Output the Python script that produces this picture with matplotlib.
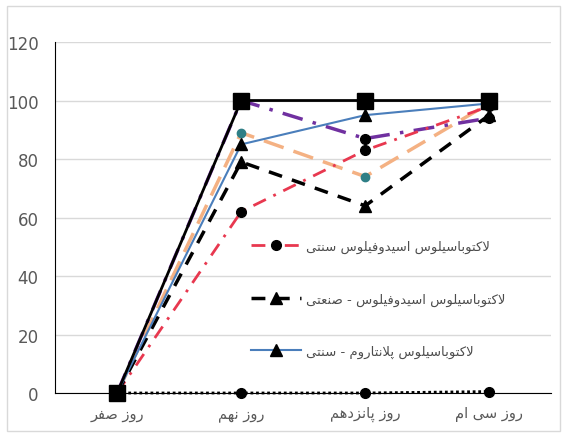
import matplotlib
matplotlib.use("Agg")
import matplotlib.pyplot as plt
from matplotlib.patches import Rectangle

# ---- داده‌ها ----
days = ["روز صفر", "روز نهم", "روز پانزدهم", "روز سی ام"]

control = [0, 100, 100, 100]
plantarum_trad = [0, 85, 95, 99]
acido_ind = [0, 79, 64, 95]
acido_trad = [0, 62, 83, 98]
purple_series = [0, 100, 87, 94]
orange_series = [0, 89, 74, 99]
zero_series = [0, 0, 0, 0.5]

leg_acido_trad = "لاکتوباسیلوس اسیدوفیلوس سنتی"
leg_acido_ind = "لاکتوباسیلوس اسیدوفیلوس - صنعتی"
leg_plant_trad = "لاکتوباسیلوس پلانتاروم - سنتی"

# ---- شکل‌دهی حروف فارسی (matplotlib اتصال حروف و راست‌به‌چپ ندارد) ----
FORMS = {
    'ا': ('\uFE8D', '\uFE8E', None, None),
    'ب': ('\uFE8F', '\uFE90', '\uFE91', '\uFE92'),
    'پ': ('\uFB56', '\uFB57', '\uFB58', '\uFB59'),
    'ت': ('\uFE95', '\uFE96', '\uFE97', '\uFE98'),
    'د': ('\uFEA9', '\uFEAA', None, None),
    'ر': ('\uFEAD', '\uFEAE', None, None),
    'ز': ('\uFEAF', '\uFEB0', None, None),
    'س': ('\uFEB1', '\uFEB2', '\uFEB3', '\uFEB4'),
    'ص': ('\uFEB9', '\uFEBA', '\uFEBB', '\uFEBC'),
    'ع': ('\uFEC9', '\uFECA', '\uFECB', '\uFECC'),
    'ف': ('\uFED1', '\uFED2', '\uFED3', '\uFED4'),
    'ک': ('\uFB8E', '\uFB8F', '\uFB90', '\uFB91'),
    'ل': ('\uFEDD', '\uFEDE', '\uFEDF', '\uFEE0'),
    'م': ('\uFEE1', '\uFEE2', '\uFEE3', '\uFEE4'),
    'ن': ('\uFEE5', '\uFEE6', '\uFEE7', '\uFEE8'),
    'ه': ('\uFEE9', '\uFEEA', '\uFEEB', '\uFEEC'),
    'و': ('\uFEED', '\uFEEE', None, None),
    'ی': ('\uFBFC', '\uFBFD', '\uFBFE', '\uFBFF'),
}


def joins_left(c):
    return c in FORMS and FORMS[c][2] is not None


def fa(text):
    out = []
    i, n = 0, len(text)
    while i < n:
        c = text[i]
        if c not in FORMS:
            out.append(c)
            i += 1
            continue
        prev_j = i > 0 and joins_left(text[i - 1])
        if c == 'ل' and i + 1 < n and text[i + 1] == 'ا':
            out.append('\uFEFC' if prev_j else '\uFEFB')
            i += 2
            continue
        next_j = i + 1 < n and text[i + 1] in FORMS and joins_left(c)
        iso, fin, ini, med = FORMS[c]
        if prev_j and next_j:
            out.append(med)
        elif prev_j:
            out.append(fin)
        elif next_j:
            out.append(ini)
        else:
            out.append(iso)
        i += 1
    return ''.join(reversed(out))


plt.rcParams['font.family'] = ['DejaVu Sans']

fig = plt.figure(figsize=(5.63, 4.39), dpi=100)
ax = fig.add_axes([0.098, 0.1025, 0.881, 0.7995])

x = range(len(days))

ax.plot(x, orange_series, color='#f4b183', lw=2.5, dashes=(6, 3),
        marker='o', ms=6, mfc='#2f7f86', mec='#2f7f86', zorder=3)
ax.plot(x, purple_series, color='#7030a0', lw=2.5, dashes=(6, 3, 1, 3),
        marker='o', ms=7, mfc='black', mec='black', zorder=3)
l_red, = ax.plot(x, acido_trad, color='#e8384f', lw=2, dashes=(5, 3, 1, 3),
                 marker='o', ms=7, mfc='black', mec='black', zorder=4)
l_dash, = ax.plot(x, acido_ind, color='black', lw=2.5, dashes=(4, 3),
                  marker='^', ms=8, mfc='black', mec='black', zorder=4)
l_blue, = ax.plot(x, plantarum_trad, color='#4a7ebb', lw=1.5,
                  marker='^', ms=8, mfc='black', mec='black', zorder=5)
ax.plot(x, control, color='black', lw=2,
        marker='s', ms=12, mfc='black', mec='black', zorder=6, clip_on=False)
ax.plot(x, zero_series, color='black', lw=2, dashes=(1, 1),
        marker='o', ms=7, mfc='black', mec='black', zorder=6, clip_on=False)

ax.set_xlim(-0.5, 3.5)
ax.set_ylim(0, 120)
ax.set_yticks(range(0, 121, 20))
ax.set_xticks(list(x))
ax.set_xticklabels([fa(d) for d in days], fontsize=10.5, color='#595959')
ax.tick_params(axis='y', length=0, pad=12, labelsize=12, labelcolor='#595959')
ax.tick_params(axis='x', length=0, pad=9)

ax.grid(axis='y', color='#d9d9d9', lw=1)
ax.set_axisbelow(True)
for side in ['top', 'right']:
    ax.spines[side].set_visible(False)
ax.spines['left'].set_color('black')
ax.spines['bottom'].set_color('black')

leg = ax.legend([l_red, l_dash, l_blue],
                [fa(leg_acido_trad), fa(leg_acido_ind), fa(leg_plant_trad)],
                loc='center left', bbox_to_anchor=(0.37, 0.268),
                frameon=False, fontsize=9.5, handlelength=3.8,
                handletextpad=0.4, labelspacing=3.0)
for t in leg.get_texts():
    t.set_color('#4d4d4d')

# قاب دور نمودار
fig.patches.append(Rectangle((0.012, 0.016), 0.982, 0.968, transform=fig.transFigure,
                             fill=False, edgecolor='#d9d9d9', lw=1))

fig.savefig('out.png', dpi=100)
